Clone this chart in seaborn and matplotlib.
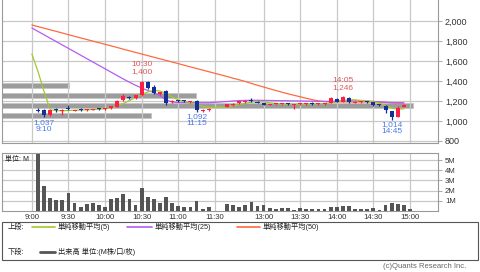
import matplotlib
matplotlib.use('Agg')
import matplotlib.pyplot as plt
import seaborn as sns
import numpy as np
from matplotlib.patches import Rectangle
from matplotlib.lines import Line2D

# ---------------- data ----------------
tick_slots = [0, 6, 12, 18, 24, 30, 38, 44, 50, 56, 62]
tick_labels = ['9:00', '9:30', '10:00', '10:30', '11:00', '11:30',
               '13:00', '13:30', '14:00', '14:30', '15:00']

price_ticks = [800, 1000, 1200, 1400, 1600, 1800, 2000]
price_tick_labels = ['800', '1,000', '1,200', '1,400', '1,600', '1,800', '2,000']
vol_ticks = [1, 2, 3, 4, 5]
vol_tick_labels = ['1M', '2M', '3M', '4M', '5M']

candle_slots = list(range(1, 30)) + list(range(32, 62))
opens = [1115, 1110, 1060, 1112, 1105, 1125, 1105, 1112, 1110, 1114, 1124, 1118, 1128, 1145, 1210,
         1240, 1230, 1260, 1395, 1345, 1272, 1300, 1190, 1205, 1202, 1192, 1205, 1102, 1112,
         1145, 1160, 1180, 1190, 1200, 1195, 1180, 1165, 1166, 1168, 1178, 1162, 1170, 1172, 1178,
         1170, 1170, 1185, 1225, 1195, 1235, 1185, 1188, 1200, 1190, 1165, 1155, 1100, 1045, 1145]
highs = [1135, 1120, 1112, 1128, 1122, 1160, 1115, 1128, 1122, 1125, 1135, 1132, 1150, 1215, 1275,
         1255, 1262, 1400, 1400, 1360, 1295, 1310, 1210, 1210, 1215, 1205, 1215, 1120, 1130,
         1175, 1180, 1205, 1215, 1235, 1200, 1185, 1175, 1175, 1175, 1185, 1168, 1180, 1178, 1190,
         1180, 1180, 1240, 1230, 1246, 1240, 1200, 1200, 1205, 1195, 1172, 1160, 1105, 1150, 1170]
lows = [1090, 1037, 1050, 1095, 1060, 1110, 1098, 1100, 1105, 1108, 1110, 1110, 1122, 1140, 1205,
        1225, 1220, 1255, 1320, 1275, 1265, 1160, 1185, 1190, 1190, 1185, 1092, 1095, 1105,
        1140, 1155, 1175, 1185, 1195, 1180, 1160, 1158, 1160, 1160, 1165, 1125, 1165, 1165, 1165,
        1165, 1165, 1180, 1190, 1190, 1185, 1180, 1182, 1185, 1155, 1150, 1080, 1014, 1040, 1140]
closes = [1105, 1065, 1108, 1106, 1115, 1118, 1112, 1108, 1118, 1121, 1118, 1128, 1145, 1205, 1250,
          1235, 1258, 1395, 1330, 1285, 1290, 1180, 1205, 1198, 1198, 1200, 1112, 1115, 1125,
          1170, 1175, 1200, 1205, 1198, 1185, 1165, 1170, 1170, 1172, 1170, 1165, 1175, 1175, 1172,
          1175, 1176, 1235, 1195, 1240, 1195, 1195, 1195, 1195, 1160, 1160, 1110, 1045, 1135, 1165]

vol_slots = list(range(1, 31)) + list(range(32, 63))
volumes = [5.55, 2.5, 1.27, 1.1, 1.1, 1.73, 0.83, 0.43, 0.7, 0.77, 0.6, 0.37, 1.17, 1.27, 1.67,
           1.2, 0.6, 2.23, 1.4, 1.13, 0.75, 1.42, 0.83, 0.5, 0.37, 0.4, 1.0, 0.2, 0.37, 0.04,
           0.67, 0.6, 0.35, 0.6, 0.85, 0.5, 0.6, 0.25, 0.22, 0.25, 0.28, 0.12, 0.25, 0.15, 0.17,
           0.17, 0.17, 0.4, 0.4, 0.53, 0.47, 0.23, 0.23, 0.23, 0.33, 0.1, 0.63, 0.83, 0.73, 0.63, 0.17]

ma_slots = list(range(0, 30)) + list(range(32, 62))
ma5 = [1670, 1495, 1295, 1112, 1105, 1102, 1105, 1108, 1110, 1112, 1115, 1118, 1122, 1132, 1150,
       1175, 1205, 1235, 1265, 1290, 1305, 1300, 1275, 1240, 1212, 1195, 1182, 1165, 1148, 1135,
       1140, 1150, 1165, 1178, 1188, 1192, 1190, 1182, 1175, 1170, 1168, 1166, 1167, 1169, 1171,
       1172, 1173, 1182, 1192, 1205, 1212, 1212, 1205, 1200, 1192, 1178, 1155, 1130, 1118, 1122]
ma25 = [1930, 1896, 1862, 1828, 1794, 1760, 1726, 1692, 1658, 1624, 1590, 1556, 1522, 1488, 1454,
        1420, 1388, 1357, 1330, 1305, 1285, 1255, 1210, 1190, 1185, 1184, 1183, 1183, 1183, 1183,
        1195, 1200, 1204, 1206, 1207, 1207, 1206, 1205, 1204, 1203, 1202, 1201, 1200, 1199, 1198,
        1197, 1196, 1197, 1199, 1201, 1202, 1202, 1201, 1199, 1196, 1192, 1187, 1182, 1180, 1180]
ma50 = [1960, 1944, 1928, 1912, 1896, 1880, 1863, 1847, 1831, 1815, 1799, 1783, 1767, 1751, 1735,
        1718, 1702, 1686, 1670, 1654, 1638, 1622, 1606, 1590, 1574, 1557, 1541, 1525, 1509, 1493,
        1445, 1428, 1412, 1395, 1376, 1357, 1340, 1322, 1305, 1288, 1272, 1257, 1242, 1227, 1213,
        1201, 1194, 1192, 1191, 1191, 1191, 1190, 1190, 1190, 1189, 1188, 1186, 1184, 1183, 1183]

band_prices = [1057, 1158, 1255, 1355]
band_volumes = [8.7, 24.0, 11.3, 3.9]

high_marks = [(18, 1400, '10:30'), (51, 1246, '14:05')]
low_marks = [(2, 1037, '9:10'), (27, 1092, '11:15'), (59, 1014, '14:45')]

# ---------------- style ----------------
sns.set_theme(style='white')
plt.rcParams['font.family'] = ['Liberation Sans', 'Noto Sans CJK JP', 'DejaVu Sans']

UP = '#ff1f44'
DOWN = '#142f96'
GRID = '#c8c8c8'
SPINE = '#9a9a9a'
C_MA5 = '#a3c92a'
C_MA25 = '#b45cf0'
C_MA50 = '#ff6a40'

W, H = 480, 272
fig = plt.figure(figsize=(4.8, 2.72), dpi=100)
fig.patch.set_facecolor('white')

def rect(x0, y0, x1, y1):
    return [x0 / W, 1 - y1 / H, (x1 - x0) / W, (y1 - y0) / H]

XL, XR = -4.9, 66.6

# band axes (behind main)
axb = fig.add_axes(rect(2, 0, 438, 143))
axm = fig.add_axes(rect(2, 0, 438, 143))
axb.set_zorder(0)
axm.set_zorder(1)
axm.patch.set_visible(False)

axb.barh(band_prices, band_volumes, height=52, left=0, color='#9c9c9c',
         edgecolor='#c4c4c4', linewidth=0.6)
axb.set_xlim(0, 25.45)
axb.set_ylim(780, 2210)
axb.axis('off')

# main axes
axm.set_xlim(XL, XR)
axm.set_ylim(780, 2210)
axm.set_xticks(tick_slots)
axm.set_xticklabels([])
axm.set_yticks(price_ticks)
axm.set_yticklabels(price_tick_labels, fontsize=6.5, color='#333333')
axm.yaxis.tick_right()
axm.tick_params(axis='y', direction='out', length=3, width=0.6, color=SPINE, pad=2, right=True)
axm.tick_params(axis='x', length=0)
axm.grid(True, color=GRID, linewidth=0.9)
for s in ['left', 'right', 'bottom']:
    axm.spines[s].set_color(SPINE)
    axm.spines[s].set_linewidth(0.8)
axm.spines['top'].set_visible(False)

# MA lines via seaborn
sns.lineplot(x=ma_slots, y=ma50, ax=axm, color=C_MA50, linewidth=0.9, errorbar=None, zorder=3)
sns.lineplot(x=ma_slots, y=ma25, ax=axm, color=C_MA25, linewidth=0.9, errorbar=None, zorder=3)
sns.lineplot(x=ma_slots, y=ma5, ax=axm, color=C_MA5, linewidth=0.9, errorbar=None, zorder=3)

# candles
o = np.array(opens); c = np.array(closes); hi = np.array(highs); lo = np.array(lows)
cs = np.array(candle_slots)
cols = [UP if cc >= oo else DOWN for oo, cc in zip(o, c)]
axm.vlines(cs, lo, hi, colors=cols, linewidth=0.9, zorder=4)
bottom = np.minimum(o, c)
height = np.maximum(np.abs(c - o), 9)
axm.bar(cs, height, bottom=bottom, width=0.66, color=cols, linewidth=0, zorder=5)

axm.set_xlabel(''); axm.set_ylabel('')
axm.set_xlim(XL, XR)

# annotations
for s, v, t in high_marks:
    axm.annotate(f'{t}\n{v:,}', xy=(s, v), xytext=(0, 4), textcoords='offset points',
                 ha='center', va='bottom', fontsize=6, color='#e05a5a', linespacing=1.05, zorder=6)
for s, v, t in low_marks:
    axm.annotate(f'{v:,}\n{t}', xy=(s, v), xytext=(0, -1), textcoords='offset points',
                 ha='center', va='top', fontsize=6, color='#4a7ae6', linespacing=1.05, zorder=6)

# volume axes
axv = fig.add_axes(rect(2, 153, 438, 211))
sns.barplot(x=vol_slots, y=volumes, ax=axv, native_scale=True, color='#555555',
            saturation=1, width=0.62, errorbar=None, linewidth=0, zorder=3)
axv.set_xlim(XL, XR)
axv.set_ylim(0, 5.69)
axv.set_xticks(tick_slots)
axv.set_xticklabels(tick_labels, fontsize=5.6, color='#333333')
axv.set_yticks(vol_ticks)
axv.set_yticklabels(vol_tick_labels, fontsize=5.6, color='#333333')
axv.yaxis.tick_right()
axv.tick_params(axis='y', direction='out', length=3, width=0.6, color=SPINE, pad=2, right=True)
axv.tick_params(axis='x', length=0, pad=2)
axv.grid(True, color=GRID, linewidth=0.9)
axv.set_axisbelow(True)
for s in axv.spines.values():
    s.set_color(SPINE)
    s.set_linewidth(0.8)
axv.set_xlabel(''); axv.set_ylabel('')
axv.text(0.008, 0.95, '単位: M', transform=axv.transAxes, fontsize=5, color='#222222',
         ha='left', va='top', zorder=6)

# legend box
fig.patches.append(Rectangle((2 / W, 1 - 260 / H), 476 / W, 38 / H, transform=fig.transFigure,
                             facecolor='white', edgecolor='#555555', linewidth=0.8))

def fx(x):
    return x / W

def fy(y):
    return 1 - y / H

row1, row2 = 227, 252
fig.text(fx(8), fy(row1), '上段:', fontsize=5.2, va='center', ha='left', color='#222222')
for (x0, x1, tx, col, lab) in [(32, 55, 58, C_MA5, '単純移動平均(5)'),
                               (127, 152, 155, C_MA25, '単純移動平均(25)'),
                               (237, 260, 263, C_MA50, '単純移動平均(50)')]:
    fig.lines.append(Line2D([fx(x0), fx(x1)], [fy(row1), fy(row1)], transform=fig.transFigure,
                            color=col, linewidth=1.2))
    fig.text(fx(tx), fy(row1), lab, fontsize=5.2, va='center', ha='left', color='#222222')

fig.text(fx(8), fy(row2), '下段:', fontsize=5.2, va='center', ha='left', color='#222222')
fig.lines.append(Line2D([fx(40), fx(55)], [fy(row2), fy(row2)], transform=fig.transFigure,
                        color='#555555', linewidth=2.0))
fig.text(fx(58), fy(row2), '出来高 単位:(M株/口/枚)', fontsize=5.2, va='center', ha='left',
         color='#222222')

fig.text(fx(466), fy(267), '(c)Quants Research Inc.', fontsize=5.5, va='center', ha='right',
         color='#666666')

fig.savefig('out.png', dpi=100, facecolor='white')
